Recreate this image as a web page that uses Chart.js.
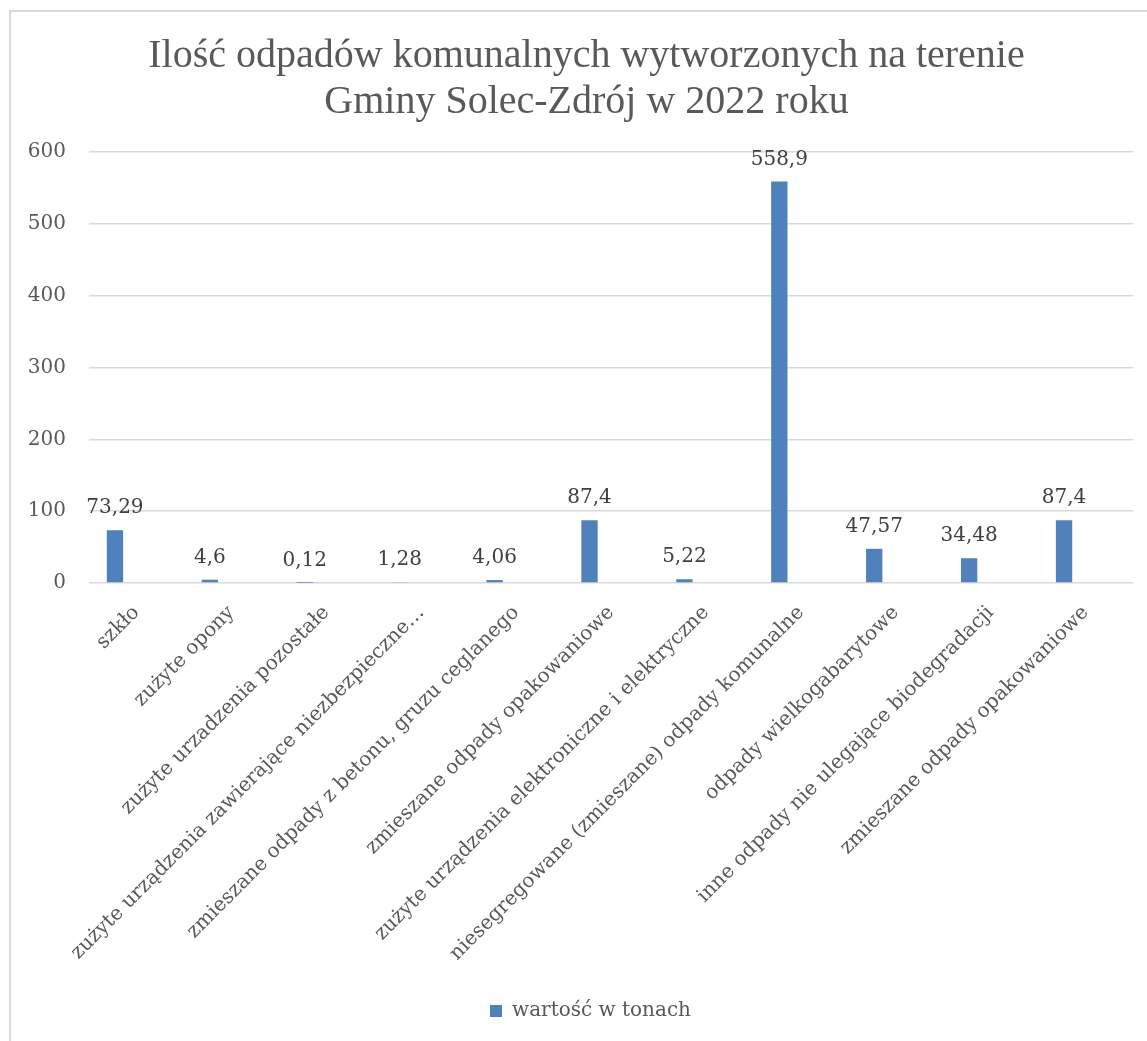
<!DOCTYPE html>
<html>
<head>
<meta charset="utf-8">
<script src="https://cdn.jsdelivr.net/npm/chart.js@4.4.1/dist/chart.umd.min.js"></script>
<style>
  html, body { margin: 0; padding: 0; background: #fff; overflow: hidden; }
  #frame { position: absolute; left: 9px; top: 10px; width: 1200px; height: 1100px; border: 2px solid #d9d9d9; }
  #chart { position: absolute; left: 0; top: 0; }
</style>
</head>
<body>
<div id="frame"></div>
<canvas id="chart" width="1147" height="1041"></canvas>
<script>
const categories = [
    'szkło',
    'zużyte opony',
    'zużyte urzadzenia pozostałe',
    'zużyte urządzenia zawierające niezbezpieczne…',
    'zmieszane odpady z betonu, gruzu ceglanego',
    'zmieszane odpady opakowaniowe',
    'zużyte urządzenia elektroniczne i elektryczne',
    'niesegregowane (zmieszane) odpady komunalne',
    'odpady wielkogabarytowe',
    'inne odpady nie ulegające biodegradacji',
    'zmieszane odpady opakowaniowe'
];
const tonnes = [73.29, 4.6, 0.12, 1.28, 4.06, 87.4, 5.22, 558.9, 47.57, 34.48, 87.4];
const seriesName = 'wartość w tonach';
const titleLines = ['Ilość odpadów komunalnych wytworzonych na terenie', 'Gminy Solec-Zdrój w 2022 roku'];
const yTicks = [0, 100, 200, 300, 400, 500, 600];

const serif = 'DejaVu Serif';
const blue = '#4f81bd';

// values above the bars, with a decimal comma
const valueLabels = {
    id: 'valueLabels',
    afterDatasetsDraw(chart) {
        const ctx = chart.ctx;
        const meta = chart.getDatasetMeta(0);
        ctx.save();
        ctx.font = '20px "' + serif + '"';
        ctx.fillStyle = '#404040';
        ctx.textAlign = 'center';
        ctx.textBaseline = 'alphabetic';
        meta.data.forEach((bar, i) => {
            const txt = String(tonnes[i]).replace('.', ',');
            ctx.fillText(txt, bar.x, bar.y - 17);
        });
        ctx.restore();
    }
};

// title and legend sit centred on the whole frame, not on the canvas box
const centreOnFrame = {
    id: 'centreOnFrame',
    afterLayout(chart) {
        if (chart.titleBlock) {
            chart.titleBlock.left += 10;
            chart.titleBlock.right += 10;
        }
        if (chart.legend) {
            chart.legend.left += 14;
            chart.legend.right += 14;
        }
    }
};

new Chart(document.getElementById('chart'), {
    type: 'bar',
    data: {
        labels: categories,
        datasets: [
            { label: seriesName, data: tonnes, backgroundColor: blue, categoryPercentage: 0.906, barPercentage: 0.38 },
            // empty second series, as in the sheet: it pushes the bars left of the tick
            { label: '', data: categories.map(() => null), backgroundColor: 'transparent', categoryPercentage: 0.906, barPercentage: 0.38 }
        ]
    },
    options: {
        responsive: false,
        animation: false,
        layout: { padding: { left: 20, right: 14, top: 0, bottom: 10 } },
        plugins: {
            title: {
                display: true,
                text: titleLines,
                color: '#595959',
                font: { family: 'Liberation Serif', size: 40, weight: 'normal', lineHeight: 1.15 },
                padding: { top: 33, bottom: 27 }
            },
            legend: {
                position: 'bottom',
                labels: {
                    color: '#595959',
                    font: { family: serif, size: 20 },
                    boxWidth: 12,
                    boxHeight: 12,
                    padding: 10,
                    filter: item => item.datasetIndex === 0
                }
            },
            tooltip: { enabled: false }
        },
        scales: {
            x: {
                grid: { display: false, drawTicks: false },
                border: { display: false },
                ticks: {
                    autoSkip: false,
                    minRotation: 45,
                    maxRotation: 45,
                    padding: 18,
                    color: '#595959',
                    font: { family: serif, size: 20 }
                },
                afterFit(scale) { scale.height = 408; }
            },
            y: {
                min: 0,
                max: 600,
                afterBuildTicks(scale) { scale.ticks = yTicks.map(v => ({ value: v })); },
                grid: { color: '#d9d9d9', lineWidth: 1.5, drawTicks: false },
                border: { display: false },
                ticks: {
                    padding: 23,
                    color: '#595959',
                    font: { family: serif, size: 20 }
                },
                afterFit(scale) { scale.width = 69; }
            }
        }
    },
    plugins: [valueLabels, centreOnFrame]
});
</script>
</body>
</html>
